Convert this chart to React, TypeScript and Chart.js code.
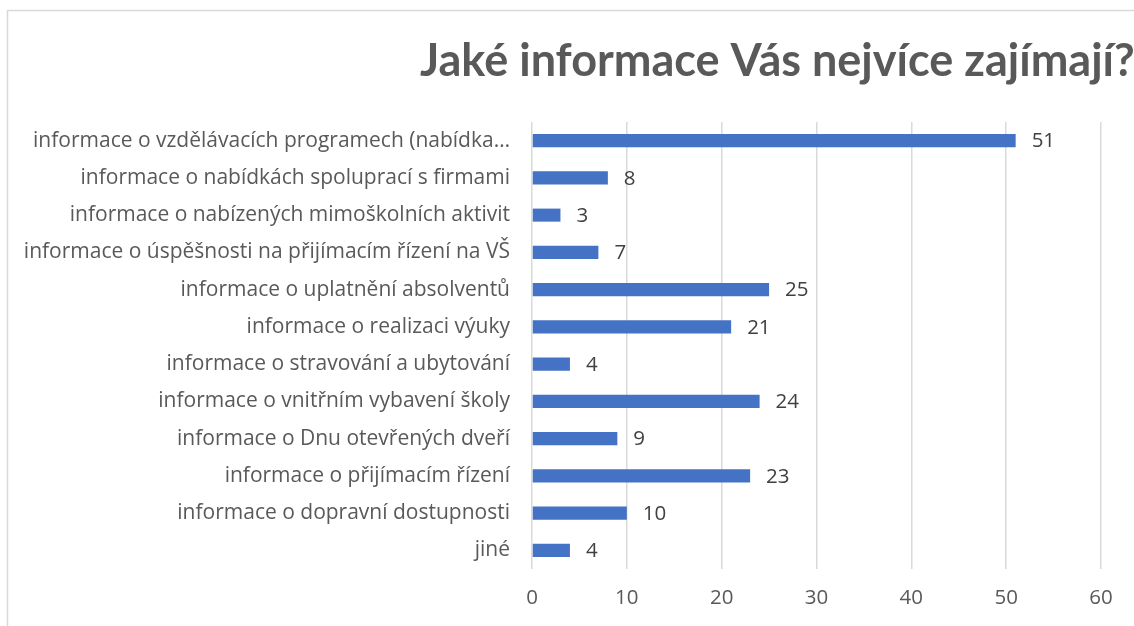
import React, { useEffect, useRef } from "react";
import { Chart, registerables } from "chart.js";

Chart.register(...registerables);

const chartTitle = "Jaké informace Vás nejvíce zajímají?";

const categories = [
  "informace o vzdělávacích programech (nabídka…",
  "informace o nabídkách spoluprací s firmami",
  "informace o nabízených mimoškolních aktivit",
  "informace o úspěšnosti na přijímacím řízení na VŠ",
  "informace o uplatnění absolventů",
  "informace o realizaci výuky",
  "informace o stravování a ubytování",
  "informace o vnitřním vybavení školy",
  "informace o Dnu otevřených dveří",
  "informace o přijímacím řízení",
  "informace o dopravní dostupnosti",
  "jiné",
];

const values = [51, 8, 3, 7, 25, 21, 4, 24, 9, 23, 10, 4];

const axisMin = 0;
const axisMax = 60;
const axisStep = 10;

const TITLE_FONT = "Lato";
const FONT = "'Open Sans'";
const TEXT_COLOR = "#595959";
const LABEL_COLOR = "#404040";
const GRID_COLOR = "#d9d9d9";
const BAR_COLOR = "#4472C4";

const framePlugin = {
  id: "frame",
  beforeDraw(chart: any) {
    const ctx = chart.ctx;
    ctx.save();
    ctx.fillStyle = "#ffffff";
    ctx.fillRect(0, 0, chart.width, chart.height);
    ctx.strokeStyle = "#d9d9d9";
    ctx.lineWidth = 1.5;
    ctx.strokeRect(7.5, 10.5, chart.width + 50, chart.height + 50);
    ctx.restore();
  },
};

const titlePlugin = {
  id: "customTitle",
  afterDraw(chart: any) {
    const ctx = chart.ctx;
    ctx.save();
    ctx.font = `bold 45px ${TITLE_FONT}`;
    ctx.fillStyle = TEXT_COLOR;
    ctx.textAlign = "left";
    ctx.textBaseline = "alphabetic";
    ctx.fillText(chartTitle, 420, 76);
    ctx.restore();
  },
};

const valueLabelPlugin = {
  id: "valueLabels",
  afterDatasetsDraw(chart: any) {
    const ctx = chart.ctx;
    const meta = chart.getDatasetMeta(0);
    ctx.save();
    ctx.font = `20.5px ${FONT}`;
    ctx.fillStyle = LABEL_COLOR;
    ctx.textAlign = "left";
    ctx.textBaseline = "middle";
    meta.data.forEach((bar: any, i: number) => {
      ctx.fillText(String(values[i]), bar.x + 16, bar.y + 1);
    });
    ctx.restore();
  },
};

export default function App() {
  const canvasRef = useRef<HTMLCanvasElement | null>(null);

  useEffect(() => {
    document.body.style.margin = "0";
    const canvas = canvasRef.current;
    if (!canvas) return;
    const chart = new Chart(canvas, {
      type: "bar",
      data: {
        labels: categories,
        datasets: [
          {
            data: values,
            backgroundColor: BAR_COLOR,
            borderWidth: 0,
            barPercentage: 0.35,
            categoryPercentage: 1,
          },
        ],
      },
      options: {
        indexAxis: "y",
        animation: false,
        responsive: true,
        maintainAspectRatio: false,
        layout: { padding: { left: 0, right: 33, top: 122, bottom: 0 } },
        plugins: {
          legend: { display: false },
          tooltip: { enabled: false },
          title: { display: false },
        },
        scales: {
          x: {
            min: axisMin,
            max: axisMax,
            position: "bottom",
            ticks: {
              stepSize: axisStep,
              color: TEXT_COLOR,
              font: { family: FONT, size: 20.5 },
              padding: 17,
            },
            grid: {
              color: GRID_COLOR,
              lineWidth: 1.5,
              drawTicks: false,
            },
            border: { display: false },
            afterFit(scale: any) {
              scale.height = 57;
            },
          },
          y: {
            ticks: {
              color: TEXT_COLOR,
              font: { family: FONT, size: 21 },
              padding: 22,
              autoSkip: false,
            },
            grid: { display: false, drawTicks: false },
            border: { display: false },
            afterFit(scale: any) {
              scale.width = 532;
            },
          },
        },
      },
      plugins: [framePlugin, titlePlugin, valueLabelPlugin],
    });
    return () => chart.destroy();
  }, []);

  return (
    <div style={{ width: 1134, height: 626, position: "relative" }}>
      <canvas ref={canvasRef} />
    </div>
  );
}
